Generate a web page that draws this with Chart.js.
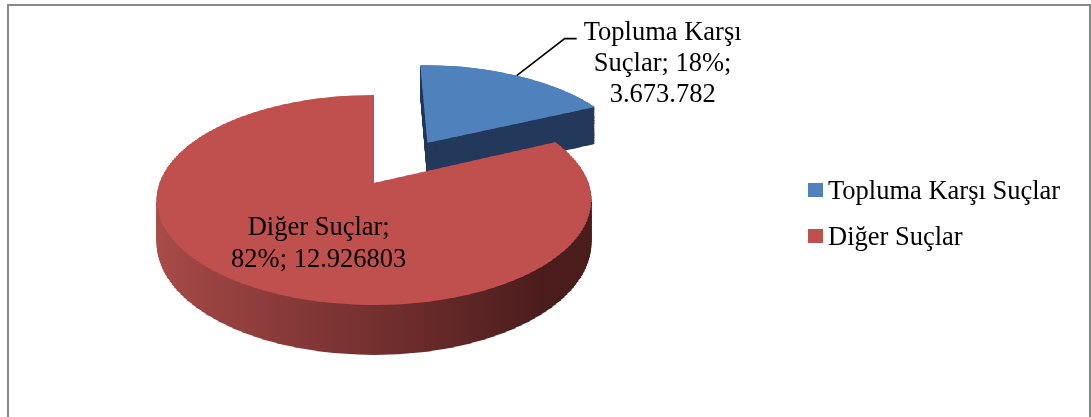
<!DOCTYPE html>
<html>
<head>
<meta charset="utf-8">
<script src="https://cdn.jsdelivr.net/npm/chart.js@4/dist/chart.umd.min.js"></script>
<style>
    html, body { margin: 0; padding: 0; background: #fff; overflow: hidden; }
    #wrap { position: relative; width: 1091px; height: 417px; }
    #frame {
        position: absolute; left: 7px; top: 4px; width: 1084px; height: 430px;
        border: 2px solid #888888; box-sizing: border-box;
    }
    #pieChart { position: absolute; left: 0; top: 0; }
</style>
</head>
<body>
<div id="wrap">
    <div id="frame"></div>
    <canvas id="pieChart" width="1091" height="417"></canvas>
</div>
<script>
// data (slices are drawn with the shares shown on the chart)
const categories = ['Topluma Karşı Suçlar', 'Diğer Suçlar'];
const shares = [18, 82];
const percents = ['18%', '82%'];
const valueLabels = ['3.673.782', '12.926803'];

const topColors = ['#4f81bd', '#c0504d'];
const FONT = "'Liberation Serif', 'Times New Roman', serif";
const FONT_SIZE = 26.5;

// simple perspective for the tilted pie (screen y/scale as a function of depth v)
const persp = { cx: 374, a: 0.3347, b: 183, c: -0.000746, s0: 0.987 };
const Yv = v => (persp.a * v + persp.b) / (1 + persp.c * v);
const Sv = v => persp.s0 / (1 + persp.c * v);
const dYv = v => (persp.a - persp.c * persp.b) / Math.pow(1 + persp.c * v, 2);

const explode = [108, 0];    // how far each slice is pulled out
const thickness = 50;        // pie thickness at the front, px
const bandCount = [60, 80];

function sideFill(ctx, i, x0, r) {
    if (i === 0) return '#243a5c';
    const g = ctx.createLinearGradient(x0 - r, 0, x0 + r, 0);
    g.addColorStop(0, '#ab4d4a');
    g.addColorStop(0.5, '#74302f');
    g.addColorStop(0.85, '#4a1c1c');
    g.addColorStop(1, '#4a1c1c');
    return g;
}

function explodeShift(arc, i) {
    const mid = (arc.startAngle + arc.endAngle) / 2;
    return { dx: Math.cos(mid) * explode[i], dy: Math.sin(mid) * explode[i] };
}

function project(u, v, depthPx) {
    const S = Sv(v);
    return { x: persp.cx + u * S, y: Yv(v) + (depthPx || 0) * S / persp.frontS };
}

// draw one arc element through horizontal bands, each band with its own affine map
function drawSlice(chart, arc, i, depthPx) {
    const ctx = chart.ctx;
    const x0 = arc.x, y0 = arc.y, r = arc.outerRadius;
    const s = explodeShift(arc, i);

    let vMin = 0, vMax = 0;
    for (let k = 0; k <= 60; k++) {
        const t = arc.startAngle + (arc.endAngle - arc.startAngle) * k / 60;
        vMin = Math.min(vMin, Math.sin(t) * r);
        vMax = Math.max(vMax, Math.sin(t) * r);
    }
    vMin += s.dy; vMax += s.dy;

    const n = bandCount[i];
    const step = (vMax - vMin) / n;
    for (let k = 0; k < n; k++) {
        const v1 = vMin + k * step, v2 = v1 + step, vm = (v1 + v2) / 2;
        const S = Sv(vm), Yp = dYv(vm), shift = depthPx * S / persp.frontS;
        const top = Math.floor(Yv(v1) + shift), bot = Math.ceil(Yv(v2) + shift);
        ctx.save();
        ctx.setTransform(1, 0, 0, 1, 0, 0);
        ctx.beginPath();
        ctx.rect(0, top, chart.width, bot - top);
        ctx.clip();
        ctx.setTransform(S, 0, 0, Yp,
            persp.cx + S * (s.dx - x0),
            Yv(vm) + Yp * (s.dy - y0 - vm) + shift);
        arc.draw(ctx);
        ctx.restore();
    }
}

const pie3d = {
    id: 'pie3d',
    beforeDatasetsDraw(chart) {
        const ctx = chart.ctx;
        const arcs = chart.getDatasetMeta(0).data;
        const r = arcs[0].outerRadius;
        persp.frontS = Sv(r);

        // back slice first, then the big one
        [0, 1].forEach(i => {
            const arc = arcs[i];
            const orig = arc.options.backgroundColor;
            arc.options.backgroundColor = sideFill(ctx, i, arc.x, r);
            for (let d = thickness; d >= 1; d--) drawSlice(chart, arc, i, d);
            arc.options.backgroundColor = orig;
            drawSlice(chart, arc, i, 0);
        });
        return false;
    },
    afterDraw(chart) {
        const ctx = chart.ctx;
        const arcs = chart.getDatasetMeta(0).data;
        const r = arcs[0].outerRadius;

        const pointOn = (i, f) => {
            const arc = arcs[i];
            const mid = (arc.startAngle + arc.endAngle) / 2;
            const s = explodeShift(arc, i);
            return project(Math.cos(mid) * r * f + s.dx, Math.sin(mid) * r * f + s.dy);
        };

        ctx.save();
        ctx.setTransform(1, 0, 0, 1, 0, 0);
        ctx.font = FONT_SIZE + 'px ' + FONT;
        ctx.fillStyle = '#000';
        ctx.textBaseline = 'alphabetic';

        // label inside the big slice
        const p1 = pointOn(1, 0.58);
        ctx.textAlign = 'center';
        ctx.fillText('Diğer Suçlar;', p1.x + 17, p1.y - 2);
        ctx.fillText(percents[1] + '; ' + valueLabels[1], p1.x + 17, p1.y + 30);

        // label with leader line for the small slice
        const p0 = pointOn(0, 1);
        const elbow = { x: p0.x + 48, y: p0.y - 37 };
        const end = { x: elbow.x + 12, y: elbow.y };
        ctx.strokeStyle = '#000';
        ctx.lineWidth = 1.6;
        ctx.beginPath();
        ctx.moveTo(p0.x, p0.y);
        ctx.lineTo(elbow.x, elbow.y);
        ctx.lineTo(end.x, end.y);
        ctx.stroke();
        const tx = end.x + 86;
        ctx.fillText('Topluma Karşı', tx, elbow.y + 1);
        ctx.fillText('Suçlar; ' + percents[0] + ';', tx, elbow.y + 32);
        ctx.fillText(valueLabels[0], tx, elbow.y + 63);

        // legend
        ctx.textAlign = 'left';
        categories.forEach((name, i) => {
            const base = 199 + i * 46;
            ctx.fillStyle = topColors[i];
            ctx.fillRect(808, base - 16, 15, 14);
            ctx.fillStyle = '#000';
            ctx.fillText(name, 828, base);
        });
        ctx.restore();
    }
};

document.addEventListener('DOMContentLoaded', () => {
    new Chart(document.getElementById('pieChart').getContext('2d'), {
        type: 'pie',
        data: {
            labels: categories,
            datasets: [{
                data: shares,
                backgroundColor: topColors,
                borderWidth: 0
            }]
        },
        options: {
            responsive: false,
            animation: false,
            events: [],
            radius: 217,
            plugins: {
                legend: { display: false },
                tooltip: { enabled: false }
            }
        },
        plugins: [pie3d]
    });
});
</script>
</body>
</html>
